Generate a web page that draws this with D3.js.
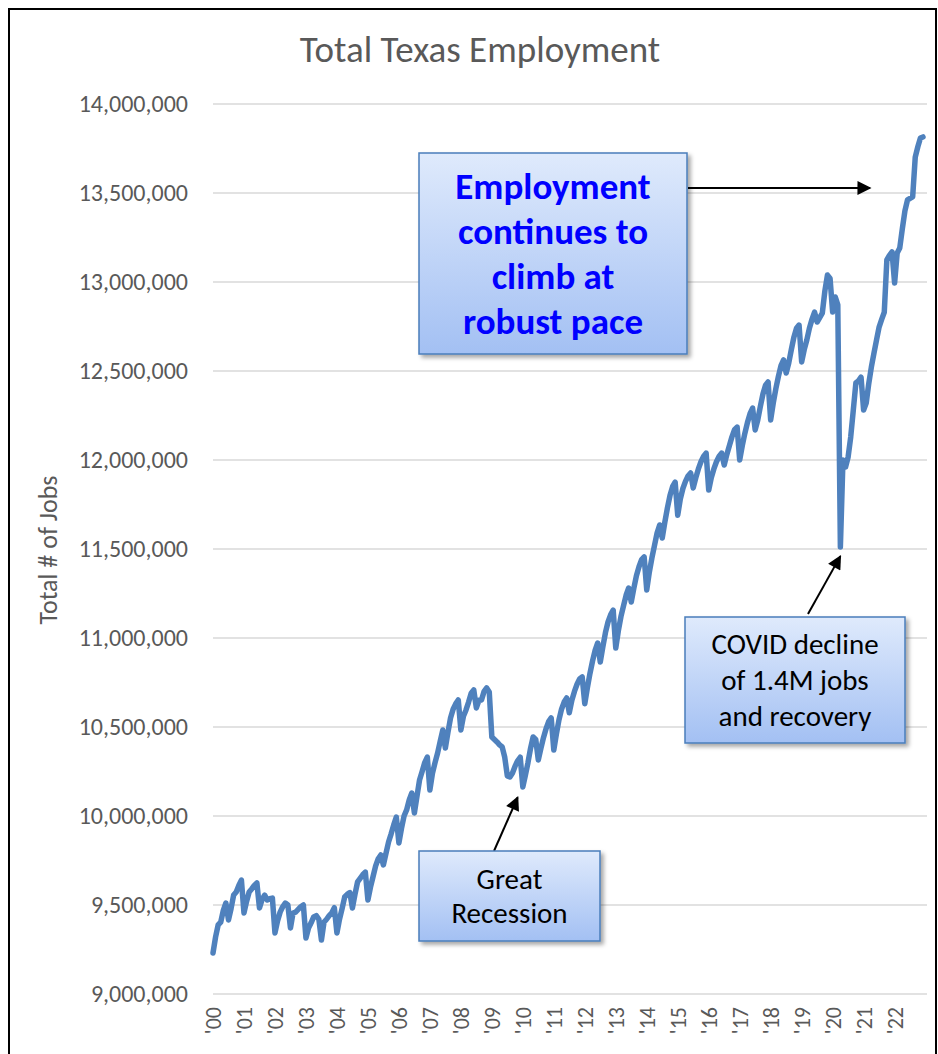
<!DOCTYPE html>
<html>
<head>
<meta charset="utf-8">
<script src="https://cdn.jsdelivr.net/npm/d3@7"></script>
<style>
  body { margin: 0; background: #fff; }
  svg { display: block; font-family: Calibri, Carlito, Lato, sans-serif; }
</style>
</head>
<body>
<svg id="chart" width="938" height="1054"></svg>
<script>
// monthly Texas employment, thousands of jobs, Jan 2000 - Dec 2022
var jobs2000s = [
  9230, 9320, 9388, 9404, 9470, 9511, 9416, 9480, 9556, 9573, 9610, 9640,   // 2000
  9455, 9520, 9573, 9590, 9610, 9624, 9483, 9530, 9556, 9528, 9535, 9539,   // 2001
  9343, 9410, 9460, 9490, 9511, 9500, 9371, 9455, 9460, 9475, 9490, 9500,   // 2002
  9315, 9370, 9400, 9433, 9440, 9420, 9303, 9404, 9420, 9440, 9455, 9485,   // 2003
  9343, 9420, 9480, 9545, 9560, 9570, 9483, 9560, 9630, 9650, 9670, 9685,   // 2004
  9528, 9600, 9660, 9720, 9760, 9781, 9725, 9790, 9854, 9900, 9950, 9994,   // 2005
  9848, 9930, 10000, 10034, 10090, 10129, 10017, 10110, 10202, 10250, 10300, 10331, // 2006
  10146, 10240, 10300, 10354, 10420, 10483, 10382, 10470, 10550, 10600, 10630, 10652, // 2007
  10483, 10560, 10596, 10640, 10690, 10708, 10607, 10650, 10652, 10700, 10719, 10697, // 2008
  10444, 10430, 10416, 10400, 10388, 10330, 10225, 10219, 10242, 10280, 10310, 10330  // 2009
];
var jobs2010s = [
  10163, 10230, 10300, 10380, 10444, 10430, 10315, 10380, 10440, 10490, 10530, 10551, // 2010
  10371, 10460, 10540, 10600, 10640, 10663, 10580, 10650, 10700, 10740, 10770, 10781, // 2011
  10630, 10720, 10800, 10870, 10930, 10972, 10865, 10950, 11030, 11090, 11130, 11157, // 2012
  10944, 11040, 11120, 11180, 11240, 11281, 11202, 11280, 11350, 11400, 11440, 11455, // 2013
  11270, 11370, 11450, 11520, 11590, 11635, 11562, 11650, 11730, 11800, 11850, 11876, // 2014
  11690, 11780, 11840, 11880, 11910, 11927, 11843, 11900, 11950, 11990, 12020, 12039, // 2015
  11831, 11900, 11950, 11990, 12020, 12039, 11972, 12030, 12080, 12130, 12170, 12185, // 2016
  12000, 12080, 12150, 12210, 12260, 12292, 12169, 12225, 12300, 12370, 12420, 12438, // 2017
  12225, 12320, 12400, 12470, 12530, 12562, 12489, 12545, 12620, 12690, 12740, 12758, // 2018
  12551, 12620, 12674, 12740, 12790, 12831, 12775, 12800, 12825, 12950, 13039, 13020  // 2019
];
var jobs2020s = [
  12831, 12916, 12871, 11511, 12000, 11961, 12017, 12129, 12280, 12433, 12445, 12465, // 2020
  12281, 12320, 12430, 12522, 12600, 12674, 12747, 12790, 12830, 13124, 13150, 13169, // 2021
  12994, 13163, 13191, 13300, 13400, 13461, 13470, 13478, 13702, 13760, 13809, 13815  // 2022
];
var yearLabels = ["'00","'01","'02","'03","'04","'05","'06","'07","'08","'09","'10",
                  "'11","'12","'13","'14","'15","'16","'17","'18","'19","'20","'21","'22"];
var yTicks = [9000000, 9500000, 10000000, 10500000, 11000000, 11500000, 12000000,
              12500000, 13000000, 13500000, 14000000];

var jobs = jobs2000s.concat(jobs2010s, jobs2020s).map(function(v){ return v * 1000; });

var svg = d3.select("#chart");
var grey = "#595959";
var font = "Calibri, Carlito, Lato, sans-serif";

var plotLeft = 213, plotRight = 923, plotTop = 104, plotBottom = 994;

var x = d3.scaleLinear().domain([0, jobs.length - 1]).range([plotLeft, plotRight]);
var y = d3.scaleLinear().domain([9000000, 14000000]).range([plotBottom, plotTop]);

// defs: gradient, shadow, arrowhead
var defs = svg.append("defs");
var grad = defs.append("linearGradient").attr("id", "boxFill")
  .attr("x1", 0).attr("y1", 0).attr("x2", 0).attr("y2", 1);
grad.append("stop").attr("offset", "0%").attr("stop-color", "#dfeafc");
grad.append("stop").attr("offset", "100%").attr("stop-color", "#a3c0f3");

var shadow = defs.append("filter").attr("id", "shadow")
  .attr("x", "-10%").attr("y", "-10%").attr("width", "130%").attr("height", "130%");
shadow.append("feDropShadow").attr("dx", 3).attr("dy", 3).attr("stdDeviation", 2)
  .attr("flood-color", "#000").attr("flood-opacity", 0.35);

defs.append("marker").attr("id", "head")
  .attr("viewBox", "0 0 10 10").attr("refX", 9).attr("refY", 5)
  .attr("markerWidth", 8).attr("markerHeight", 7).attr("markerUnits", "strokeWidth")
  .attr("orient", "auto")
  .append("path").attr("d", "M0,0 L10,5 L0,10 z").attr("fill", "#000");

// outer border
svg.append("rect").attr("x", 9).attr("y", 9).attr("width", 927).attr("height", 1100)
  .attr("fill", "none").attr("stroke", "#000").attr("stroke-width", 2);

// title
svg.append("text").attr("x", 480).attr("y", 49).attr("dy", "0.35em")
  .attr("text-anchor", "middle").attr("fill", grey)
  .style("font-size", "37px").text("Total Texas Employment");

// gridlines
svg.append("g").selectAll("line").data(yTicks).enter().append("line")
  .attr("x1", plotLeft).attr("x2", plotRight + 4)
  .attr("y1", function(d){ return y(d); }).attr("y2", function(d){ return y(d); })
  .attr("stroke", "#d9d9d9").attr("stroke-width", 1.5);

// y axis
var yAxis = svg.append("g").attr("transform", "translate(" + (plotLeft - 22) + ",0)")
  .call(d3.axisLeft(y).tickValues(yTicks).tickFormat(d3.format(",")).tickSize(0));
yAxis.select(".domain").remove();
yAxis.selectAll("text").attr("fill", grey).style("font-size", "24px")
  .style("font-family", font);

// x axis
var xAxis = svg.append("g").attr("transform", "translate(0," + plotBottom + ")")
  .call(d3.axisBottom(x).tickValues(d3.range(0, jobs.length, 12))
    .tickFormat(function(d){ return yearLabels[d / 12]; }).tickSize(0));
xAxis.select(".domain").remove();
xAxis.selectAll("text")
  .attr("transform", "rotate(-90)")
  .attr("x", -13).attr("y", 0).attr("dy", "0.35em")
  .style("text-anchor", "end")
  .attr("fill", grey).style("font-size", "22px")
  .style("font-family", font);

// y axis title
svg.append("text").attr("transform", "translate(48,550) rotate(-90)")
  .attr("dy", "0.35em").attr("text-anchor", "middle").attr("fill", grey)
  .style("font-size", "26px").text("Total # of Jobs");

// the line
var line = d3.line()
  .x(function(d, i){ return x(i); })
  .y(function(d){ return y(d); });

svg.append("path").datum(jobs)
  .attr("d", line)
  .attr("fill", "none").attr("stroke", "#4f81bd").attr("stroke-width", 5.5)
  .attr("stroke-linejoin", "round").attr("stroke-linecap", "round");

// annotation boxes
function note(bx, by, bw, bh, lines, lineGap, opts) {
  var g = svg.append("g");
  g.append("rect").attr("x", bx).attr("y", by).attr("width", bw).attr("height", bh)
    .attr("fill", "url(#boxFill)").attr("stroke", "#4a7ebb").attr("stroke-width", 1.5)
    .attr("filter", "url(#shadow)");
  var cy = by + bh / 2 - (lines.length - 1) * lineGap / 2;
  g.selectAll("text").data(lines).enter().append("text")
    .attr("x", bx + bw / 2)
    .attr("y", function(d, i){ return cy + i * lineGap; })
    .attr("dy", "0.35em").attr("text-anchor", "middle")
    .attr("fill", opts.color).style("font-size", opts.size)
    .style("font-weight", opts.weight).text(function(d){ return d; });
}

function arrow(x1, y1, x2, y2) {
  svg.append("line").attr("x1", x1).attr("y1", y1).attr("x2", x2).attr("y2", y2)
    .attr("stroke", "#000").attr("stroke-width", 2).attr("marker-end", "url(#head)");
}

arrow(688, 188, x(254.5), y(13528000));
arrow(808, 614, x(243), y(11460000));
arrow(494, 851, x(118), y(10105000));

note(419, 153, 268, 201, ["Employment", "continues to", "climb at", "robust pace"], 45,
  { color: "#0000ff", size: "37px", weight: "bold" });
note(685, 617, 220, 126, ["COVID decline", "of 1.4M jobs", "and recovery"], 36,
  { color: "#000", size: "29px", weight: "normal" });
note(419, 851, 181, 90, ["Great", "Recession"], 34,
  { color: "#000", size: "29px", weight: "normal" });
</script>
</body>
</html>
